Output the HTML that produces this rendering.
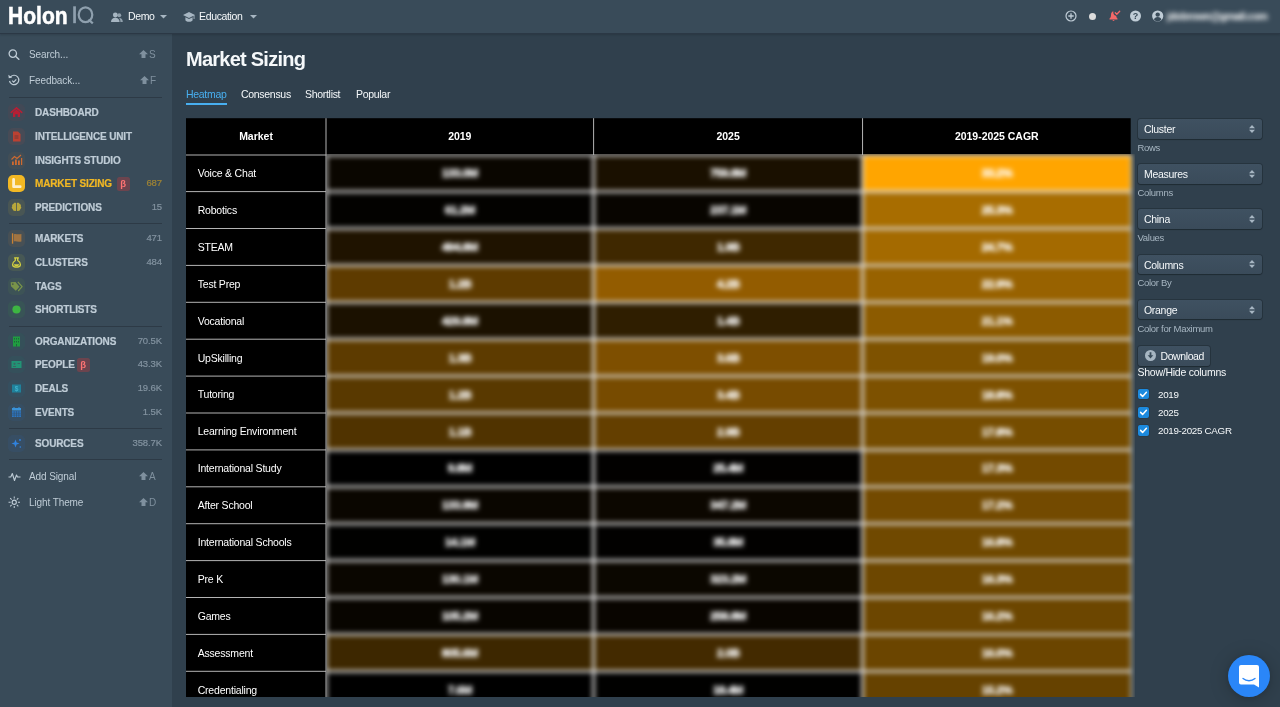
<!DOCTYPE html>
<html>
<head>
<meta charset="utf-8">
<title>Market Sizing</title>
<style>
*{box-sizing:border-box;margin:0;padding:0}
html,body{width:1280px;height:707px;overflow:hidden;background:#30404d;font-family:"Liberation Sans",sans-serif;color:#f5f8fa;-webkit-font-smoothing:antialiased}
#top{position:absolute;left:0;top:0;width:1280px;height:33px;background:#394b59;box-shadow:0 1px 0 #2b3845,0 2px 2px rgba(16,22,26,.2);z-index:5}
#side{position:absolute;left:0;top:33px;width:172px;height:674px;background:#394b59}
#main{position:absolute;left:173px;top:33px;width:1107px;height:674px}
.abs{position:absolute}
.t{position:absolute;white-space:nowrap;line-height:1}

.tb{position:absolute;white-space:nowrap;font-size:10.5px;line-height:12px;color:#f5f8fa;letter-spacing:-0.35px}
.logo{position:absolute;left:7.500px;top:2px;font-weight:bold;font-size:23px;line-height:28px;letter-spacing:0;color:#fff;white-space:nowrap;transform:scaleX(.915);transform-origin:0 0;-webkit-text-stroke:0.5px #fff}
.logo span{font-weight:normal;color:#8fa0ae;letter-spacing:0;margin-left:5px}
.sq{position:absolute;white-space:nowrap;font-size:10px;line-height:12px;color:#bfccd6;letter-spacing:-0.1px}
.sk{position:absolute;white-space:nowrap;font-size:10px;line-height:12px;color:#7f909e}
.nv{position:absolute;left:35px;white-space:nowrap;font-size:10px;line-height:12px;font-weight:bold;color:#bfccd6;letter-spacing:-0.15px;-webkit-text-stroke:.2px currentColor}
.ct{position:absolute;right:10px;white-space:nowrap;font-size:9.5px;line-height:12px;color:#8393a0;text-align:right;letter-spacing:-0.1px;-webkit-text-stroke:.2px currentColor}
.dv{position:absolute;left:9px;width:153px;height:1px;background:#2d3a46}
.ib{position:absolute;left:8px;width:17px;height:17px;border-radius:5px}
.beta{position:absolute;width:13.500px;height:13.500px;border-radius:2.500px;background:rgba(219,55,55,.32);color:#ff7373;font-size:9.5px;line-height:13.500px;text-align:center;font-weight:bold;margin-top:-1px;margin-left:-.5px}

.h1{position:absolute;left:13px;top:14px;font-size:20px;line-height:24px;font-weight:bold;letter-spacing:-0.75px;color:#f5f8fa;white-space:nowrap}
.tab{position:absolute;top:55px;font-size:10.5px;line-height:12px;letter-spacing:-0.3px;color:#f5f8fa;white-space:nowrap}
#tw{position:absolute;left:13px;top:85px;width:949px;height:578.600px;overflow:hidden}
.hc{position:absolute;width:200px;height:12px;line-height:12px;text-align:center;font-weight:bold;font-size:10.5px;color:#fff;letter-spacing:-0.02px;white-space:nowrap}
.r{position:absolute;left:11.700px;height:12px;line-height:12px;font-size:10.5px;color:#fff;letter-spacing:-0.2px;white-space:nowrap}

.sel{position:absolute;left:965px;width:124px;height:19.500px;border-radius:3px;background:linear-gradient(#3f5161,#3a4b5a);box-shadow:0 0 0 1px rgba(16,22,26,.28),0 1px 1px rgba(16,22,26,.3);font-size:10.5px;line-height:21px;padding-left:6px;letter-spacing:-0.3px;color:#f5f8fa;white-space:nowrap}
.sel svg{position:absolute;right:7.200px;top:5.800px}
.lb{position:absolute;left:964.500px;font-size:9.5px;line-height:12px;letter-spacing:-0.3px;color:#a7b6c2;white-space:nowrap}
.ck{position:absolute;left:964.500px;width:11px;height:10.500px;border-radius:2px;background:#1c8ade;box-shadow:0 0 0 .5px rgba(16,22,26,.25)}
.cl{position:absolute;left:985px;font-size:9.8px;line-height:12px;letter-spacing:-0.3px;color:#f5f8fa;white-space:nowrap;margin-top:.4px}
#top,#side,#main{will-change:transform}
.ib svg{opacity:.85}
</style>
</head>
<body>
<div id="top">
<div class="logo">Holon</div>
<svg class="abs" style="left:72px;top:5px" width="24" height="20" viewBox="0 0 24 20"><path d="M1.200 1.300h2.700v16.900H1.200z" fill="#8fa0ae"/><ellipse cx="13.500" cy="9.750" rx="6.800" ry="7.400" fill="none" stroke="#8fa0ae" stroke-width="2.200"/><path d="M16.500 14.500l4.300 3.900" stroke="#8fa0ae" stroke-width="2.200"/></svg>
<svg class="abs" style="left:111px;top:11.500px" width="12" height="11" viewBox="0 0 12 11"><g fill="#a7b6c2"><circle cx="4.3" cy="3" r="2.4"/><path d="M0 10c0-2.6 1.6-4.2 4.3-4.2S8.6 7.400 8.600 10z"/><circle cx="8.200" cy="3.300" r="2" opacity=".8"/><path d="M9.400 10c0-1.700-.4-3-1.300-3.900 2.100-.2 3.700 1.300 3.700 3.900z" opacity=".8"/></g></svg>
<div class="tb" style="left:128px;top:10px">Demo</div>
<svg class="abs" style="left:160px;top:15px" width="7" height="4" viewBox="0 0 7 4"><path d="M0 0h7L3.500 3.600z" fill="#a7b6c2"/></svg>
<svg class="abs" style="left:183px;top:11.500px" width="12" height="11" viewBox="0 0 12 11"><g fill="#a7b6c2"><path d="M6 0L0 3l6 3 4.600-2.300V7h.9V3.250L12 3z"/><path d="M2.400 5.300V8c0 1 1.600 1.800 3.600 1.800S9.600 9 9.600 8V5.300L6 7.100z"/></g></svg>
<div class="tb" style="left:199px;top:10px">Education</div>
<svg class="abs" style="left:1065px;top:10px" width="12" height="12" viewBox="0 0 12 12"><circle cx="6" cy="6" r="5" fill="none" stroke="#bfccd6" stroke-width="1.200"/><path d="M6 3.300v5.400M3.300 6h5.400" stroke="#bfccd6" stroke-width="1.300"/></svg>
<div class="abs" style="left:1089.200px;top:12.500px;width:7.300px;height:7.300px;border-radius:50%;background:#dcdcdc"></div>
<svg class="abs" style="left:1109px;top:10px" width="12" height="12" viewBox="0 0 12 12"><path d="M4.300 1.200C2.600 1.800 2 3.300 2 5c0 2-.6 2.800-1.500 3.600v.9h8V8.600C7.600 7.800 7.300 7 7.200 5.800 5.500 5.600 4.300 4.200 4.300 2.500z" fill="#f46868"/><path d="M3.300 10.100a1.300 1.300 0 0 0 2.400 0z" fill="#f46868"/><path d="M6.300 2.800l1.500 1.500 2.900-3.100" fill="none" stroke="#f46868" stroke-width="1.300" stroke-linecap="round" stroke-linejoin="round"/></svg>
<svg class="abs" style="left:1130px;top:10px" width="12" height="12" viewBox="0 0 12 12"><circle cx="5.500" cy="6" r="5.500" fill="#bfccd6"/><text x="5.500" y="9.300" font-size="9" font-weight="bold" text-anchor="middle" fill="#394b59" font-family="Liberation Sans">?</text></svg>
<svg class="abs" style="left:1152px;top:10px" width="12" height="12" viewBox="0 0 12 12"><circle cx="5.700" cy="6" r="5.600" fill="#bfccd6"/><circle cx="5.700" cy="4.600" r="2.200" fill="#394b59"/><path d="M2 9.800c.3-2 1.700-2.800 3.700-2.800s3.400.8 3.700 2.800a5.600 5.600 0 0 1-7.400 0z" fill="#394b59"/></svg>
<div class="abs" style="left:1167px;top:9.500px;font-size:10.5px;line-height:13px;font-weight:bold;color:#fff;filter:blur(2.500px);white-space:nowrap;letter-spacing:-0.5px">jdobrown@gmail.com</div>
<svg class="abs" style="left:250px;top:15px" width="7" height="4" viewBox="0 0 7 4"><path d="M0 0h7L3.500 3.600z" fill="#a7b6c2"/></svg>
</div>
<div id="side">
<svg class="abs" style="left:8px;top:16px" width="12" height="11" viewBox="0 0 12 11"><circle cx="4.800" cy="4.600" r="3.700" fill="none" stroke="#bfccd6" stroke-width="1.300"/><path d="M7.500 7.300l3.300 3" stroke="#bfccd6" stroke-width="1.500" stroke-linecap="round"/></svg>
<div class="sq" style="left:29px;top:15.7px">Search...</div>
<svg class="abs" style="left:139px;top:17px" width="9" height="8" viewBox="0 0 9 8"><path d="M4.500 0L9 4.300H6.500V8h-4V4.300H0z" fill="#7f909e"/></svg>
<div class="sk" style="left:149px;top:15.7px">S</div>
<svg class="abs" style="left:8px;top:41px" width="12" height="12" viewBox="0 0 12 12"><path d="M2.200 3.300A4.700 4.700 0 1 1 1.500 7" fill="none" stroke="#bfccd6" stroke-width="1.200"/><path d="M0.300 0.800l.5 3.500 3.400-.7z" fill="#bfccd6"/><path d="M4.200 6.600l1.500 1.500 2.600-2.800" fill="none" stroke="#bfccd6" stroke-width="1.200"/></svg>
<div class="sq" style="left:29px;top:41.7px">Feedback...</div>
<svg class="abs" style="left:140px;top:43px" width="9" height="8" viewBox="0 0 9 8"><path d="M4.500 0L9 4.300H6.500V8h-4V4.300H0z" fill="#7f909e"/></svg>
<div class="sk" style="left:150px;top:41.7px">F</div>
<div class="dv" style="top:64px"></div>
<div class="ib" style="top:71.0px;background:rgba(194,48,48,0.075)"><svg width="17" height="17" viewBox="0 0 17 17"><path d="M3.300 8.400l5.200-4.500 5.200 4.500" fill="none" stroke="#d0162e" stroke-width="1.500" stroke-linecap="round" stroke-linejoin="round"/><path d="M5 8.600l3.500-3 3.500 3v4.300H9.700v-2.700H7.300v2.700H5z" fill="#d0162e"/></svg></div>
<div class="nv" style="top:74.3px">DASHBOARD</div>
<div class="ib" style="top:94.5px;background:rgba(219,80,55,0.090)"><svg width="17" height="17" viewBox="0 0 17 17"><path d="M5 3.500h5l2.500 2.500v7.500H5z" fill="#d0402c"/><path d="M6.500 8h4M6.500 10h4" stroke="#6b3434" stroke-width=".8"/></svg></div>
<div class="nv" style="top:97.8px">INTELLIGENCE UNIT</div>
<div class="ib" style="top:118.5px;background:rgba(217,130,43,0.060)"><svg width="17" height="17" viewBox="0 0 17 17"><path d="M4 13V9.500h1.800V13zM7 13V7.500h1.800V13zM10 13V8.500h1.800V13zM13 13V6h1.200V13z" fill="#e8702a"/><path d="M3.500 7.500l3-3 2.500 2 4-3.500" fill="none" stroke="#e8702a" stroke-width="1.100"/></svg></div>
<div class="nv" style="top:121.8px">INSIGHTS STUDIO</div>
<div class="ib" style="top:142.0px;background:#f2b824"><svg style="opacity:1" width="17" height="17" viewBox="0 0 17 17"><path d="M5.600 4.300v7.400h6.600" fill="none" stroke="#fdf0cc" stroke-width="2.800" stroke-linecap="round" stroke-linejoin="round"/></svg></div>
<div class="nv" style="top:145.3px;color:#f2b824">MARKET SIZING</div>
<div class="ct" style="top:144.3px;color:#a08434">687</div>
<div class="beta" style="left:117px;top:145.3px">&beta;</div>
<div class="ib" style="top:165.5px;background:rgba(217,180,43,0.105)"><svg width="17" height="17" viewBox="0 0 17 17"><path d="M8.100 4.100c-.9-.8-2.500-.4-2.700.8-1.200.2-1.700 1.500-1.100 2.400-.9.800-.7 2.300.4 2.800 0 1.300 1.200 2.100 2.300 1.700.4.500 1.100.4 1.100-.2z M8.900 4.100c.9-.8 2.500-.4 2.700.8 1.200.2 1.700 1.500 1.100 2.400.9.800.7 2.300-.4 2.800 0 1.300-1.200 2.100-2.300 1.700-.4.500-1.100.4-1.100-.2z" fill="#cdb737"/></svg></div>
<div class="nv" style="top:168.8px">PREDICTIONS</div>
<div class="ct" style="top:167.8px">15</div>
<div class="dv" style="top:190.0px"></div>
<div class="ib" style="top:197.0px;background:rgba(217,130,43,0.090)"><svg width="17" height="17" viewBox="0 0 17 17"><path d="M3.900 3.300h1.300v10.400H3.900z" fill="#e08a2e"/><path d="M5.800 4.200c2-.8 3.800.6 7.600-.2v7.400c-3.800.8-5.600-.6-7.600.2z" fill="#b27b3e"/></svg></div>
<div class="nv" style="top:200.3px">MARKETS</div>
<div class="ct" style="top:199.3px">471</div>
<div class="ib" style="top:220.5px;background:rgba(217,217,43,0.090)"><svg width="17" height="17" viewBox="0 0 17 17"><path d="M6.600 3.900h3.800M7.300 4.300v2.200C5.600 7.500 4.600 9 4.600 10.600c0 1.500 1 2.400 2.400 2.400h3c1.400 0 2.400-.9 2.400-2.400 0-1.600-1-3.100-2.700-4.100V4.300" fill="none" stroke="#ece53c" stroke-width="1.300" stroke-linecap="round" stroke-linejoin="round"/><path d="M6 10.300h5c0 1.200-.5 1.700-1.300 1.700H7.300C6.500 12 6 11.500 6 10.300z" fill="#ece53c"/></svg></div>
<div class="nv" style="top:223.8px">CLUSTERS</div>
<div class="ct" style="top:222.8px">484</div>
<div class="ib" style="top:244.5px;background:rgba(110,170,60,0.090)"><svg width="17" height="17" viewBox="0 0 17 17"><path d="M2.700 4.300l4.800-.3 4 4.700-3.700 4.100-4.800-4.600z" fill="#84a048"/><circle cx="4.800" cy="6.100" r=".9" fill="#4a5a45"/><path d="M9.800 3.900l4.300 4.800-3.900 4.300" fill="none" stroke="#84a048" stroke-width="1.200" stroke-linejoin="round"/></svg></div>
<div class="nv" style="top:247.8px">TAGS</div>
<div class="ib" style="top:268.0px;background:rgba(60,200,60,0.075)"><svg width="17" height="17" viewBox="0 0 17 17"><circle cx="8.500" cy="8.500" r="4.100" fill="#3fc63f"/></svg></div>
<div class="nv" style="top:271.3px">SHORTLISTS</div>
<div class="dv" style="top:292.5px"></div>
<div class="ib" style="top:299.5px;background:rgba(15,153,96,0.075)"><svg width="17" height="17" viewBox="0 0 17 17"><path d="M5 3.500h7v10H5z" fill="#1cab3c"/><path d="M6.500 5v1.500M8.500 5v1.500M10.500 5v1.500M6.500 8v1.500M8.500 8v1.500M10.500 8v1.500M8.500 11v2.500" stroke="#1a6b38" stroke-width="1"/></svg></div>
<div class="nv" style="top:302.8px">ORGANIZATIONS</div>
<div class="ct" style="top:301.8px">70.5K</div>
<div class="ib" style="top:323.0px;background:rgba(15,153,120,0.075)"><svg width="17" height="17" viewBox="0 0 17 17"><path d="M3.500 5h10v7h-10z" fill="#1f9f7a"/><circle cx="6.500" cy="7.800" r="1.100" fill="#3a6b66"/><path d="M5 10.500h3M9.500 7.500h2.500" stroke="#3a6b66" stroke-width="1"/></svg></div>
<div class="nv" style="top:326.3px">PEOPLE</div>
<div class="ct" style="top:325.3px">43.3K</div>
<div class="beta" style="left:77px;top:326.3px">&beta;</div>
<div class="ib" style="top:346.5px;background:rgba(20,140,170,0.075)"><svg width="17" height="17" viewBox="0 0 17 17"><path d="M4 4.500h9v8H4z" fill="#1d8aa6"/><text x="8.500" y="11" font-size="6.500" font-weight="bold" text-anchor="middle" fill="#3fc3e0" font-family="Liberation Sans">$</text></svg></div>
<div class="nv" style="top:349.8px">DEALS</div>
<div class="ct" style="top:348.8px">19.6K</div>
<div class="ib" style="top:370.5px;background:rgba(40,120,220,0.075)"><svg width="17" height="17" viewBox="0 0 17 17"><path d="M4 4h9v2.500H4z" fill="#3aa0f0"/><path d="M4 7.200h9V13H4z" fill="#2b7fd6"/><path d="M6.200 7.200V13M8.500 7.200V13M10.800 7.200V13M4 9.200h9M4 11.100h9" stroke="#31506e" stroke-width=".6"/><path d="M6 3v1.500M11 3v1.500" stroke="#3aa0f0" stroke-width="1"/></svg></div>
<div class="nv" style="top:373.8px">EVENTS</div>
<div class="ct" style="top:372.8px">1.5K</div>
<div class="dv" style="top:394.5px"></div>
<div class="ib" style="top:401.5px;background:rgba(40,120,240,0.075)"><svg width="17" height="17" viewBox="0 0 17 17"><path d="M7.500 4.500l1.100 2.900 2.900 1.100-2.900 1.100-1.100 2.900-1.100-2.900-2.900-1.100 2.900-1.100z" fill="#2f8df5"/><circle cx="12" cy="5" r=".9" fill="#2f8df5"/><circle cx="12.300" cy="12" r=".8" fill="#2f8df5"/></svg></div>
<div class="nv" style="top:404.8px">SOURCES</div>
<div class="ct" style="top:403.8px">358.7K</div>
<div class="dv" style="top:426.0px"></div>
<svg class="abs" style="left:7.500px;top:438px" width="13" height="11" viewBox="0 0 13 11"><path d="M.5 6h2.300l1.500-3.500 2.200 7 2-5.500 1 2h3" fill="none" stroke="#bfccd6" stroke-width="1.100" stroke-linejoin="round"/></svg>
<div class="sq" style="left:29px;top:437.7px">Add Signal</div>
<svg class="abs" style="left:139px;top:439px" width="9" height="8" viewBox="0 0 9 8"><path d="M4.500 0L9 4.300H6.500V8h-4V4.300H0z" fill="#7f909e"/></svg>
<div class="sk" style="left:149px;top:437.7px">A</div>
<svg class="abs" style="left:7.500px;top:463px" width="12.500" height="12.500" viewBox="0 0 12 12"><circle cx="6" cy="6" r="2" fill="none" stroke="#bfccd6" stroke-width="1.100"/><path d="M6 .5v2M6 9.500v2M.5 6h2M9.500 6h2M2.100 2.100l1.400 1.400M8.500 8.500l1.400 1.400M2.100 9.900l1.400-1.400M8.500 3.500l1.400-1.400" stroke="#bfccd6" stroke-width="1"/></svg>
<div class="sq" style="left:29px;top:463.7px">Light Theme</div>
<svg class="abs" style="left:139px;top:465px" width="9" height="8" viewBox="0 0 9 8"><path d="M4.500 0L9 4.300H6.500V8h-4V4.300H0z" fill="#7f909e"/></svg>
<div class="sk" style="left:149px;top:463.7px">D</div>
</div>
<div id="main">
<div class="h1">Market Sizing</div>
<div class="tab" style="left:13px;color:#48aff0">Heatmap</div>
<div class="abs" style="left:13px;top:69.700px;width:41px;height:2.300px;background:#48aff0"></div>
<div class="tab" style="left:68px">Consensus</div>
<div class="tab" style="left:132px">Shortlist</div>
<div class="tab" style="left:183px">Popular</div>
<div class="sel" style="top:86.0px">Cluster<svg width="6" height="8" viewBox="0 0 6 8"><path d="M3 0L6 3.200H0zM0 4.800h6L3 8z" fill="#a7b6c2"/></svg></div>
<div class="lb" style="top:108.8px">Rows</div>
<div class="sel" style="top:131.2px">Measures<svg width="6" height="8" viewBox="0 0 6 8"><path d="M3 0L6 3.200H0zM0 4.800h6L3 8z" fill="#a7b6c2"/></svg></div>
<div class="lb" style="top:154.0px">Columns</div>
<div class="sel" style="top:176.4px">China<svg width="6" height="8" viewBox="0 0 6 8"><path d="M3 0L6 3.200H0zM0 4.800h6L3 8z" fill="#a7b6c2"/></svg></div>
<div class="lb" style="top:199.2px">Values</div>
<div class="sel" style="top:221.6px">Columns<svg width="6" height="8" viewBox="0 0 6 8"><path d="M3 0L6 3.200H0zM0 4.800h6L3 8z" fill="#a7b6c2"/></svg></div>
<div class="lb" style="top:244.4px">Color By</div>
<div class="sel" style="top:266.8px">Orange<svg width="6" height="8" viewBox="0 0 6 8"><path d="M3 0L6 3.200H0zM0 4.800h6L3 8z" fill="#a7b6c2"/></svg></div>
<div class="lb" style="top:289.6px">Color for Maximum</div>
<div class="abs" style="left:965px;top:313px;width:72px;height:19.500px;border-radius:3px;background:linear-gradient(#3f5161,#3a4b5a);box-shadow:0 0 0 1px rgba(16,22,26,.28),0 1px 1px rgba(16,22,26,.3)"><svg class="abs" style="left:6.500px;top:4px" width="11" height="11" viewBox="0 0 11 11"><circle cx="5.500" cy="5.500" r="5.500" fill="#a7b6c2"/><path d="M4.600 2.300h1.800v3h1.900L5.500 8.400 2.700 5.300h1.900z" fill="#394b59"/></svg><div class="abs" style="left:22.500px;top:3.500px;font-size:10.5px;line-height:12px;letter-spacing:-0.4px;white-space:nowrap">Download</div></div>
<div class="abs" style="left:964.500px;top:333px;font-size:10.5px;line-height:12px;letter-spacing:-0.25px;white-space:nowrap">Show/Hide columns</div>
<div class="ck" style="top:355.9px"><svg width="11" height="10.5" viewBox="0 0 11 10.5" style="display:block"><path d="M2.600 5.400l2 2 3.800-4.200" fill="none" stroke="#fff" stroke-width="1.500" stroke-linecap="round" stroke-linejoin="round"/></svg></div>
<div class="cl" style="top:355.2px">2019</div>
<div class="ck" style="top:374.1px"><svg width="11" height="10.5" viewBox="0 0 11 10.5" style="display:block"><path d="M2.600 5.400l2 2 3.800-4.200" fill="none" stroke="#fff" stroke-width="1.500" stroke-linecap="round" stroke-linejoin="round"/></svg></div>
<div class="cl" style="top:373.3px">2025</div>
<div class="ck" style="top:392.1px"><svg width="11" height="10.5" viewBox="0 0 11 10.5" style="display:block"><path d="M2.600 5.400l2 2 3.800-4.200" fill="none" stroke="#fff" stroke-width="1.500" stroke-linecap="round" stroke-linejoin="round"/></svg></div>
<div class="cl" style="top:391.4px">2019-2025 CAGR</div>
<div class="abs" style="left:1054.800px;top:622px;width:42px;height:42px;border-radius:50%;background:#2a86f8;box-shadow:0 1px 6px rgba(0,0,0,.12),0 2px 20px rgba(0,0,0,.2)"><svg class="abs" style="left:11px;top:10px" width="20" height="23" viewBox="0 0 20 23"><path d="M2 0h16a2 2 0 0 1 2 2v20.500l-5-3H2a2 2 0 0 1-2-2V2a2 2 0 0 1 2-2z" fill="#fff"/><path d="M4 13.500c3.500 3 8.500 3 12 0" fill="none" stroke="#2a86f8" stroke-width="1.300" stroke-linecap="round"/></svg></div>
<div id="tw">
<div style="position:absolute;left:134px;top:36px;width:815px;height:600px;overflow:hidden">
<svg id="bl" style="position:absolute;left:-14px;top:-19px;filter:blur(2.5px)" width="850" height="600" viewBox="306 135 850 600">
<rect x="306" y="135" width="826" height="20.05" fill="#000"/><rect x="306" y="135" width="20.05" height="600" fill="#000"/>
<rect x="326" y="155" width="267.6" height="36.65" fill="#0a0600"/>
<rect x="593.6" y="155" width="268.95" height="36.65" fill="#1a1000"/>
<rect x="862.55" y="155" width="269.45" height="36.65" fill="#ffa500"/>
<rect x="326" y="191.6" width="267.6" height="36.95" fill="#030200"/>
<rect x="593.6" y="191.6" width="268.95" height="36.95" fill="#080500"/>
<rect x="862.55" y="191.6" width="269.45" height="36.95" fill="#a86d00"/>
<rect x="326" y="228.5" width="267.6" height="36.95" fill="#1f1300"/>
<rect x="593.6" y="228.5" width="268.95" height="36.95" fill="#3f2800"/>
<rect x="862.55" y="228.5" width="269.45" height="36.95" fill="#a46a00"/>
<rect x="326" y="265.4" width="267.6" height="36.95" fill="#5e3b00"/>
<rect x="593.6" y="265.4" width="268.95" height="36.95" fill="#935c00"/>
<rect x="862.55" y="265.4" width="269.45" height="36.95" fill="#986200"/>
<rect x="326" y="302.3" width="267.6" height="36.95" fill="#1b1100"/>
<rect x="593.6" y="302.3" width="268.95" height="36.95" fill="#2f1e00"/>
<rect x="862.55" y="302.3" width="269.45" height="36.95" fill="#8c5b00"/>
<rect x="326" y="339.2" width="267.6" height="36.95" fill="#5d3b00"/>
<rect x="593.6" y="339.2" width="268.95" height="36.95" fill="#7e4f00"/>
<rect x="862.55" y="339.2" width="269.45" height="36.95" fill="#7e5200"/>
<rect x="326" y="376.1" width="267.6" height="36.95" fill="#593900"/>
<rect x="593.6" y="376.1" width="268.95" height="36.95" fill="#774b00"/>
<rect x="862.55" y="376.1" width="269.45" height="36.95" fill="#7d5100"/>
<rect x="326" y="413" width="267.6" height="36.95" fill="#503300"/>
<rect x="593.6" y="413" width="268.95" height="36.95" fill="#643f00"/>
<rect x="862.55" y="413" width="269.45" height="36.95" fill="#764d00"/>
<rect x="326" y="449.9" width="267.6" height="36.95" fill="#000"/>
<rect x="593.6" y="449.9" width="268.95" height="36.95" fill="#020100"/>
<rect x="862.55" y="449.9" width="269.45" height="36.95" fill="#734a00"/>
<rect x="326" y="486.8" width="267.6" height="36.95" fill="#0a0600"/>
<rect x="593.6" y="486.8" width="268.95" height="36.95" fill="#0c0700"/>
<rect x="862.55" y="486.8" width="269.45" height="36.95" fill="#734a00"/>
<rect x="326" y="523.7" width="267.6" height="36.95" fill="#010100"/>
<rect x="593.6" y="523.7" width="268.95" height="36.95" fill="#020100"/>
<rect x="862.55" y="523.7" width="269.45" height="36.95" fill="#704900"/>
<rect x="326" y="560.6" width="267.6" height="36.95" fill="#0a0600"/>
<rect x="593.6" y="560.6" width="268.95" height="36.95" fill="#0b0700"/>
<rect x="862.55" y="560.6" width="269.45" height="36.95" fill="#6d4700"/>
<rect x="326" y="597.5" width="267.6" height="36.95" fill="#080500"/>
<rect x="593.6" y="597.5" width="268.95" height="36.95" fill="#090500"/>
<rect x="862.55" y="597.5" width="269.45" height="36.95" fill="#6c4600"/>
<rect x="326" y="634.4" width="267.6" height="36.95" fill="#3d2700"/>
<rect x="593.6" y="634.4" width="268.95" height="36.95" fill="#432a00"/>
<rect x="862.55" y="634.4" width="269.45" height="36.95" fill="#6b4500"/>
<rect x="326" y="671.3" width="267.6" height="36.95" fill="#000"/>
<rect x="593.6" y="671.3" width="268.95" height="36.95" fill="#010100"/>
<rect x="862.55" y="671.3" width="269.45" height="36.95" fill="#664200"/>
<rect x="326" y="708.2" width="267.6" height="36.95" fill="#000"/>
<rect x="593.6" y="708.2" width="268.95" height="36.95" fill="#000"/>
<rect x="862.55" y="708.2" width="269.45" height="36.95" fill="#603e00"/>
<g fill="#dedede"><rect x="326" y="153.7" width="806" height="2.6"/><rect x="326" y="190.3" width="806" height="2.6"/><rect x="326" y="227.2" width="806" height="2.6"/><rect x="326" y="264.1" width="806" height="2.6"/><rect x="326" y="301" width="806" height="2.6"/><rect x="326" y="337.9" width="806" height="2.6"/><rect x="326" y="374.8" width="806" height="2.6"/><rect x="326" y="411.7" width="806" height="2.6"/><rect x="326" y="448.6" width="806" height="2.6"/><rect x="326" y="485.5" width="806" height="2.6"/><rect x="326" y="522.4" width="806" height="2.6"/><rect x="326" y="559.3" width="806" height="2.6"/><rect x="326" y="596.2" width="806" height="2.6"/><rect x="326" y="633.1" width="806" height="2.6"/><rect x="326" y="670" width="806" height="2.6"/><rect x="326" y="706.9" width="806" height="2.6"/><rect x="326" y="743.8" width="806" height="2.6"/><rect x="324.7" y="155" width="2.6" height="590.1"/><rect x="592.3" y="155" width="2.6" height="590.1"/><rect x="861.25" y="155" width="2.6" height="590.1"/><rect x="1130.6" y="155" width="1.4" height="590.1"/></g>
<g fill="#fff" font-family="Liberation Sans" font-weight="bold" font-size="11.8" text-anchor="middle" stroke="#fff" stroke-width=".5" letter-spacing="-0.55"><text x="459.8" y="177.4">133.0M</text><text x="728.075" y="177.4">759.8M</text><text x="996.775" y="177.4">33.2%</text><text x="459.8" y="214.15">61.2M</text><text x="728.075" y="214.15">237.1M</text><text x="996.775" y="214.15">25.3%</text><text x="459.8" y="251.05">494.8M</text><text x="728.075" y="251.05">1.9B</text><text x="996.775" y="251.05">24.7%</text><text x="459.8" y="287.95">1.2B</text><text x="728.075" y="287.95">4.2B</text><text x="996.775" y="287.95">22.9%</text><text x="459.8" y="324.85">429.8M</text><text x="728.075" y="324.85">1.4B</text><text x="996.775" y="324.85">21.1%</text><text x="459.8" y="361.75">1.3B</text><text x="728.075" y="361.75">3.6B</text><text x="996.775" y="361.75">19.0%</text><text x="459.8" y="398.65">1.2B</text><text x="728.075" y="398.65">3.4B</text><text x="996.775" y="398.65">18.8%</text><text x="459.8" y="435.55">1.1B</text><text x="728.075" y="435.55">2.9B</text><text x="996.775" y="435.55">17.8%</text><text x="459.8" y="472.45">9.8M</text><text x="728.075" y="472.45">25.4M</text><text x="996.775" y="472.45">17.3%</text><text x="459.8" y="509.35">133.9M</text><text x="728.075" y="509.35">347.2M</text><text x="996.775" y="509.35">17.2%</text><text x="459.8" y="546.25">14.1M</text><text x="728.075" y="546.25">35.8M</text><text x="996.775" y="546.25">16.8%</text><text x="459.8" y="583.15">130.1M</text><text x="728.075" y="583.15">323.2M</text><text x="996.775" y="583.15">16.3%</text><text x="459.8" y="620.05">105.2M</text><text x="728.075" y="620.05">258.8M</text><text x="996.775" y="620.05">16.2%</text><text x="459.8" y="656.95">805.6M</text><text x="728.075" y="656.95">2.0B</text><text x="996.775" y="656.95">16.0%</text><text x="459.8" y="693.85">7.6M</text><text x="728.075" y="693.85">18.4M</text><text x="996.775" y="693.85">15.2%</text><text x="459.8" y="730.75">5.0M</text><text x="728.075" y="730.75">11.0M</text><text x="996.775" y="730.75">14.0%</text></g>
</svg></div>
<svg style="position:absolute;left:0;top:0" width="951" height="579" viewBox="186 118 951 579">
<rect x="186" y="118.2" width="944.7" height="35.8" fill="#000"/>
<rect x="186" y="153.5" width="140.5" height="600" fill="#000"/>
<g fill="#b4b4b4"><rect x="186" y="154.5" width="140.5" height="1"/><rect x="186" y="191.1" width="140" height="1"/><rect x="186" y="228" width="140" height="1"/><rect x="186" y="264.9" width="140" height="1"/><rect x="186" y="301.8" width="140" height="1"/><rect x="186" y="338.7" width="140" height="1"/><rect x="186" y="375.6" width="140" height="1"/><rect x="186" y="412.5" width="140" height="1"/><rect x="186" y="449.4" width="140" height="1"/><rect x="186" y="486.3" width="140" height="1"/><rect x="186" y="523.2" width="140" height="1"/><rect x="186" y="560.1" width="140" height="1"/><rect x="186" y="597" width="140" height="1"/><rect x="186" y="633.9" width="140" height="1"/><rect x="186" y="670.8" width="140" height="1"/><rect x="186" y="707.7" width="140" height="1"/><rect x="186" y="744.6" width="140" height="1"/><rect x="325.5" y="118.2" width="1" height="700"/><rect x="593.1" y="118.2" width="1" height="36.8"/><rect x="862.05" y="118.2" width="1" height="36.8"/></g>
</svg>
<div class="hc" style="left:-30px;top:12px">Market</div>
<div class="hc" style="left:173.8px;top:12px">2019</div>
<div class="hc" style="left:442.075px;top:12px">2025</div>
<div class="hc" style="left:710.775px;top:12px">2019-2025 CAGR</div>
<div class="r" style="top:49.2px">Voice &amp; Chat</div>
<div class="r" style="top:86.0px">Robotics</div>
<div class="r" style="top:122.8px">STEAM</div>
<div class="r" style="top:159.7px">Test Prep</div>
<div class="r" style="top:196.7px">Vocational</div>
<div class="r" style="top:233.5px">UpSkilling</div>
<div class="r" style="top:270.4px">Tutoring</div>
<div class="r" style="top:307.3px">Learning Environment</div>
<div class="r" style="top:344.2px">International Study</div>
<div class="r" style="top:381.1px">After School</div>
<div class="r" style="top:418.0px">International Schools</div>
<div class="r" style="top:454.9px">Pre K</div>
<div class="r" style="top:491.9px">Games</div>
<div class="r" style="top:528.7px">Assessment</div>
<div class="r" style="top:565.6px">Credentialing</div>
<div class="r" style="top:602.6px">Language</div>
</div>
</div>
</body>
</html>
